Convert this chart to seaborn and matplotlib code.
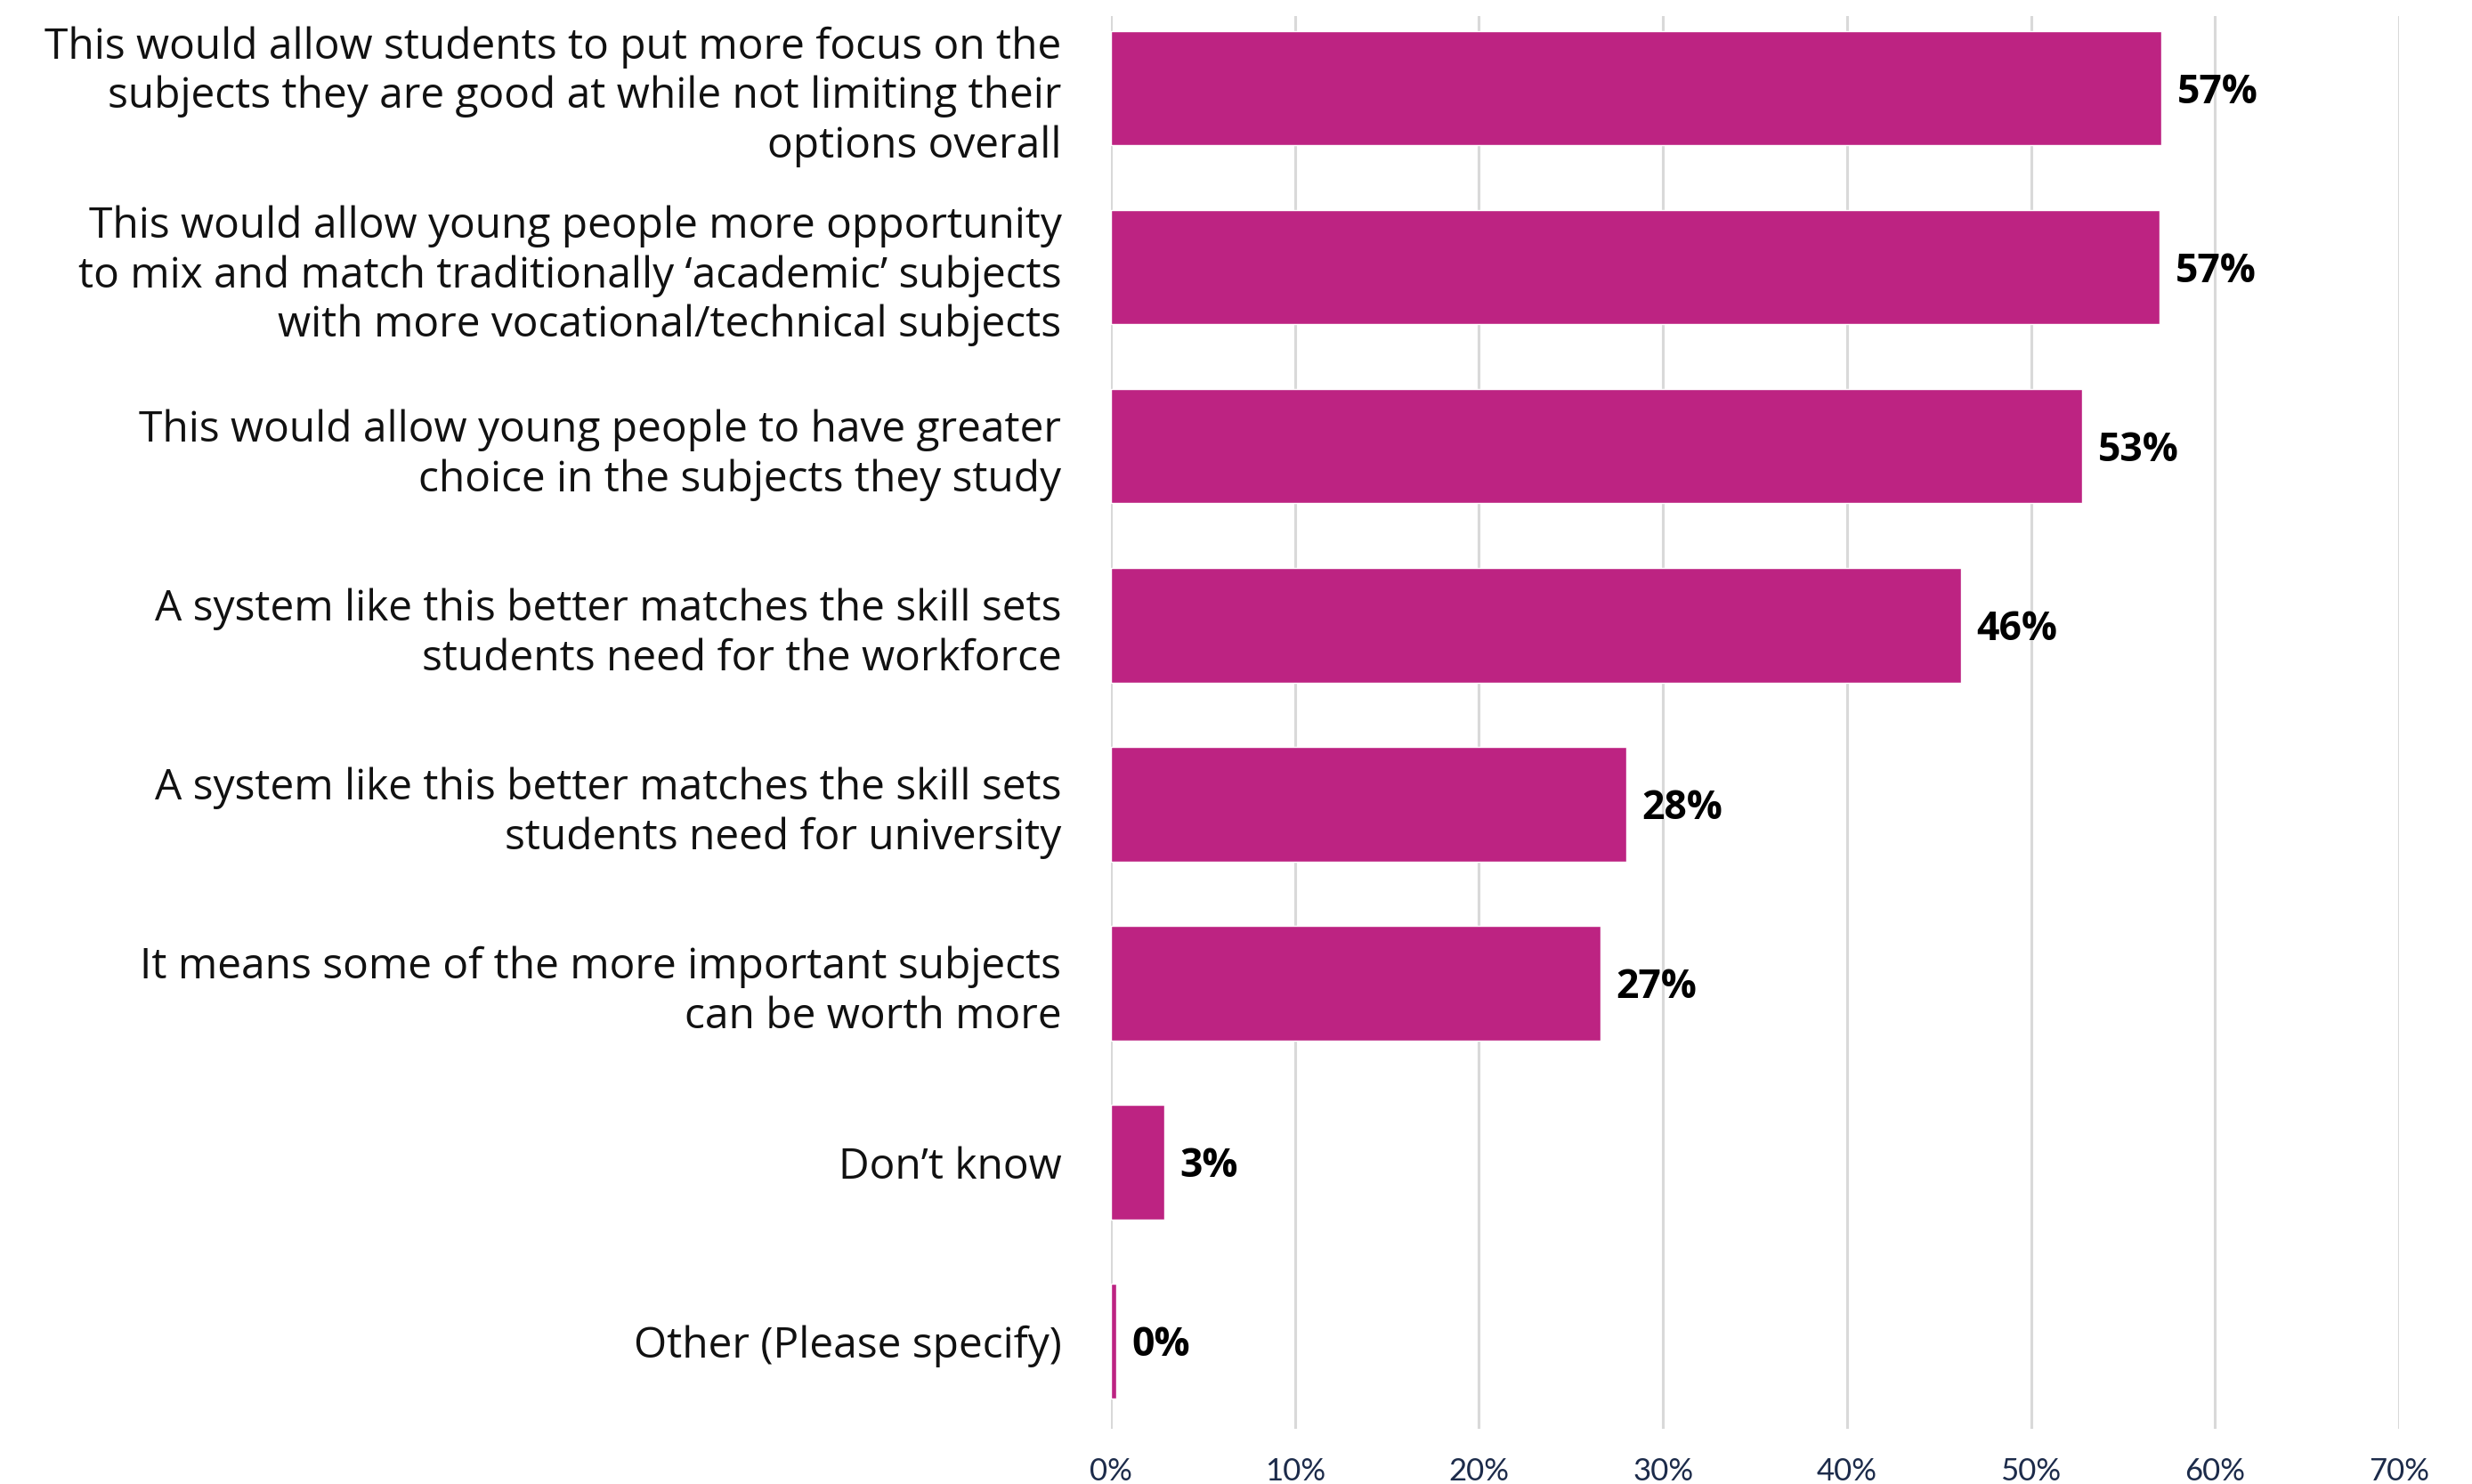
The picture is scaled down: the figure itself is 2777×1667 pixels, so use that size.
import matplotlib
matplotlib.use("Agg")
import matplotlib.pyplot as plt
import seaborn as sns
import pandas as pd

# Survey responses: reasons for supporting the proposed system
categories = [
    "This would allow students to put more focus on the\nsubjects they are good at while not limiting their\noptions overall",
    "This would allow young people more opportunity\nto mix and match traditionally \u2018academic\u2019 subjects\nwith more vocational/technical subjects",
    "This would allow young people to have greater\nchoice in the subjects they study",
    "A system like this better matches the skill sets\nstudents need for the workforce",
    "A system like this better matches the skill sets\nstudents need for university",
    "It means some of the more important subjects\ncan be worth more",
    "Don\u2019t know",
    "Other (Please specify)",
]
values = [57.1, 57.0, 52.8, 46.2, 28.0, 26.6, 2.9, 0.3]
x_ticks = [0, 10, 20, 30, 40, 50, 60, 70]
x_tick_labels = [f"{t}%" for t in x_ticks]

BAR_COLOR = "#BD2382"
GRID_COLOR = "#D9D9D9"
TICK_COLOR = "#1C2B4A"

sns.set_style("white")
plt.rcParams["font.family"] = ["Open Sans", "DejaVu Sans"]

df = pd.DataFrame({"reason": categories, "share": values})

fig = plt.figure(figsize=(27.77, 16.67), dpi=100)
ax = fig.add_axes([1248 / 2777, 1 - 1605 / 1667, (2695 - 1248) / 2777, (1605 - 18) / 1667])

sns.barplot(data=df, x="share", y="reason", orient="h", color=BAR_COLOR,
            saturation=1, width=0.64, ax=ax, zorder=3)

ax.set_xlim(0, 70)
ax.set_ylim(7.49, -0.403)
ax.set_xticks(x_ticks)
ax.set_xticklabels(x_tick_labels, fontsize=25, color=TICK_COLOR,
                   family=["Lato", "DejaVu Sans"])
ax.tick_params(axis="x", length=0, pad=23)
ax.tick_params(axis="y", length=0, pad=40)
ax.set_yticks(range(len(categories)))
ax.set_yticklabels(categories, fontsize=34.5, color="#111111", linespacing=1.23,
                   ha="right")
ax.set_xlabel("")
ax.set_ylabel("")

ax.xaxis.grid(True, color=GRID_COLOR, linewidth=2.2, zorder=0)
ax.yaxis.grid(False)
for side in ["top", "right", "bottom", "left"]:
    ax.spines[side].set_visible(False)

for i, v in enumerate(values):
    ax.text(v + 0.85, i, f"{round(v)}%", va="center_baseline", ha="left",
            fontsize=32, fontweight="bold", color="#000000", zorder=4)

fig.savefig("out.png", dpi=100)
